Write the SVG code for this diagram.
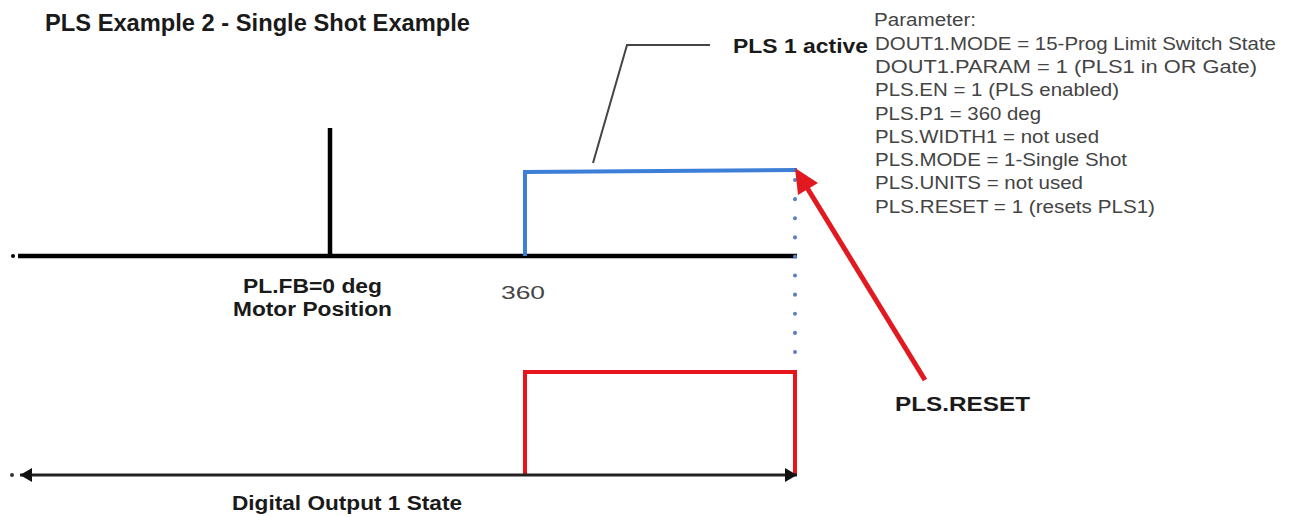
<svg xmlns="http://www.w3.org/2000/svg" width="1294" height="517" viewBox="0 0 1294 517">
<style>
  .b { font-family: "Liberation Sans", Arial, sans-serif; font-weight: bold; fill: #1a1a1a; }
  .r { font-family: "Liberation Sans", Arial, sans-serif; fill: #444; font-size: 17.5px; }
  .axis { stroke: #000; stroke-width: 4.5; fill: none; }
  .blue { stroke: #3d7fd6; stroke-width: 4; fill: none; }
  .red { stroke: #e8141c; stroke-width: 4; fill: none; }
</style>
<defs>
  <marker id="ah" viewBox="0 0 12 14" refX="12" refY="7" markerWidth="12" markerHeight="14" markerUnits="userSpaceOnUse" orient="auto-start-reverse">
    <path d="M0,0 L12,7 L0,14 Z" fill="#111"/>
  </marker>
</defs>
<rect width="1294" height="517" fill="#fff"/>

<g id="title">
  <text class="b" x="45" y="31" font-size="23" textLength="425" lengthAdjust="spacingAndGlyphs">PLS Example 2 - Single Shot Example</text>
</g>

<g id="parameters">
  <text class="r" x="874" y="26" textLength="102" lengthAdjust="spacingAndGlyphs">Parameter:</text>
  <text class="r" x="875" y="50" textLength="401" lengthAdjust="spacingAndGlyphs">DOUT1.MODE = 15-Prog Limit Switch State</text>
  <text class="r" x="875" y="73" textLength="382" lengthAdjust="spacingAndGlyphs">DOUT1.PARAM = 1 (PLS1 in OR Gate)</text>
  <text class="r" x="875" y="96" textLength="244" lengthAdjust="spacingAndGlyphs">PLS.EN = 1 (PLS enabled)</text>
  <text class="r" x="875" y="120" textLength="166" lengthAdjust="spacingAndGlyphs">PLS.P1 = 360 deg</text>
  <text class="r" x="875" y="143" textLength="224" lengthAdjust="spacingAndGlyphs">PLS.WIDTH1 = not used</text>
  <text class="r" x="875" y="166" textLength="252" lengthAdjust="spacingAndGlyphs">PLS.MODE = 1-Single Shot</text>
  <text class="r" x="875" y="189" textLength="208" lengthAdjust="spacingAndGlyphs">PLS.UNITS = not used</text>
  <text class="r" x="875" y="213" textLength="280" lengthAdjust="spacingAndGlyphs">PLS.RESET = 1 (resets PLS1)</text>
</g>

<g id="motor-position-axis">
  <circle cx="13" cy="256" r="2" fill="#000"/>
  <line class="axis" x1="18" y1="256" x2="797" y2="256"/>
  <line class="axis" x1="330" y1="128" x2="330" y2="256"/>
  <text class="b" x="243" y="293" font-size="19.5" textLength="139" lengthAdjust="spacingAndGlyphs">PL.FB=0 deg</text>
  <text class="b" x="233" y="316" font-size="19.5" textLength="159" lengthAdjust="spacingAndGlyphs">Motor Position</text>
  <text class="r" x="501" y="299" font-size="18" textLength="44" lengthAdjust="spacingAndGlyphs">360</text>
</g>

<g id="pls1-active">
  <path class="blue" d="M525,256 V172 L797,170"/>
  <text class="b" x="733" y="53" font-size="19.5" textLength="135" lengthAdjust="spacingAndGlyphs">PLS 1 active</text>
</g>

<g id="digital-output">
  <path class="red" d="M525,475 V372 H795 V475"/>
  <circle cx="12" cy="475" r="2" fill="#333"/>
  <line x1="20" y1="475" x2="797" y2="475" stroke="#222" stroke-width="3" marker-start="url(#ah)" marker-end="url(#ah)"/>
  <text class="b" x="232" y="510" font-size="19.5" textLength="230" lengthAdjust="spacingAndGlyphs">Digital Output 1 State</text>
</g>

<g id="pls-reset">
  <text class="b" x="895" y="411" font-size="19.5" textLength="135" lengthAdjust="spacingAndGlyphs">PLS.RESET</text>
</g>

<g id="connectors">
  <path d="M593,163 L627,45 L710,45" stroke="#444" stroke-width="2" fill="none"/>
  <line x1="795" y1="180" x2="795" y2="366" stroke="#5b7fc4" stroke-width="4" stroke-linecap="round" stroke-dasharray="0.1 19"/>
  <line x1="925" y1="380" x2="806" y2="186" stroke="#e11a22" stroke-width="5"/>
  <path d="M795,168 L818,183 L798,195 Z" fill="#e11a22"/>
</g>
</svg>
